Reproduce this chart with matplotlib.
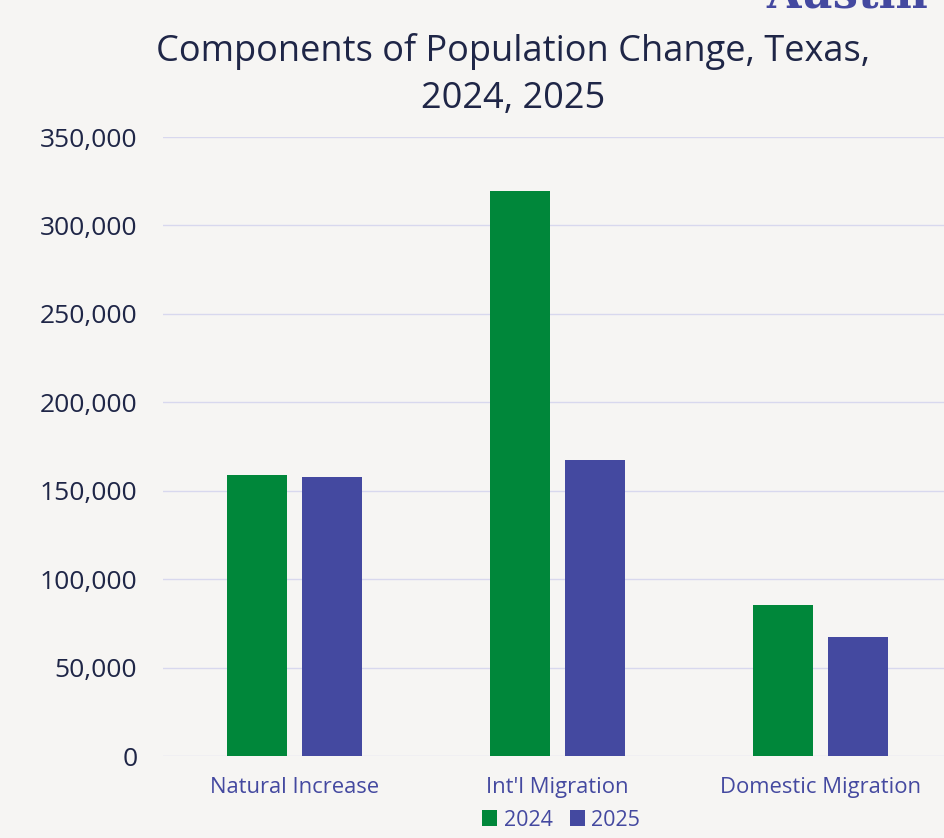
import matplotlib.pyplot as plt
import numpy as np

categories = ["Natural Increase", "Int'l Migration", "Domestic Migration"]
years = ["2024", "2025"]
values_2024 = [159000, 319300, 85200]
values_2025 = [157500, 167100, 67100]
yticks = [0, 50000, 100000, 150000, 200000, 250000, 300000, 350000]

bg = '#f6f5f3'
green = '#00873a'
purple = '#4449a0'
navy = '#1f2647'

plt.rcParams['font.family'] = ['Open Sans', 'DejaVu Sans']

fig = plt.figure(figsize=(9.44, 8.38), dpi=100, facecolor=bg)
ax = fig.add_axes([163/944, 82/838, (944-163)/944, (756-137)/838])
ax.set_facecolor(bg)

x = np.arange(len(categories))
off = 0.1426
w = 0.228
ax.bar(x - off, values_2024, w, color=green, label=years[0], zorder=3)
ax.bar(x + off, values_2025, w, color=purple, label=years[1], zorder=3)

ax.set_xlim(-0.5, 2.471)
ax.set_ylim(0, 350000)
ax.set_yticks(yticks)
ax.set_yticklabels([f'{v:,}' for v in yticks], fontsize=19, color=navy)
ax.set_xticks(x)
ax.set_xticklabels(categories, fontsize=15.8, color=purple)
ax.tick_params(axis='y', length=0, pad=18.5)
ax.tick_params(axis='x', length=0, pad=15)
ax.grid(axis='y', color='#d8d8ee', linewidth=1, zorder=0)
for s in ax.spines.values():
    s.set_visible(False)

fig.text(513/944, 1 - 75/838, 'Components of Population Change, Texas,\n2024, 2025',
         ha='center', va='center', fontsize=26, color=navy, linespacing=1.38)
fig.text(928/944, 1 - 8/838, 'Austin', ha='right', va='baseline',
         fontsize=32, fontweight='bold', family='DejaVu Serif', color=purple)

leg = fig.legend(loc='center', bbox_to_anchor=(561/944, 1 - 820/838), ncol=2,
                 frameon=False, fontsize=15.5, handlelength=0.7, handleheight=0.7,
                 handletextpad=0.3, columnspacing=0.8)
for t in leg.get_texts():
    t.set_color(purple)

fig.savefig('out.png', dpi=100, facecolor=bg)
